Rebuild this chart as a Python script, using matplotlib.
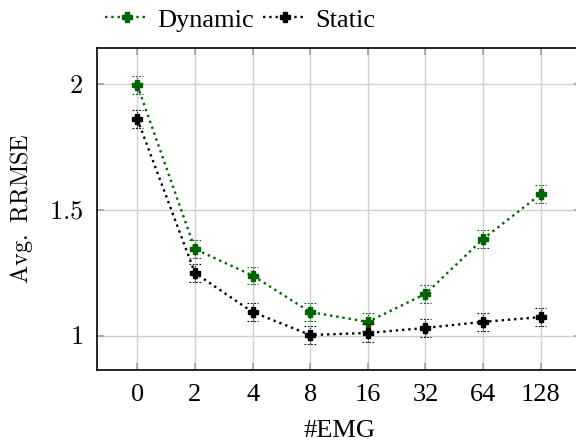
import matplotlib
matplotlib.use("Agg")
import matplotlib.pyplot as plt
from matplotlib.lines import Line2D
import numpy as np

categories = ["0", "2", "4", "8", "16", "32", "64", "128"]
dynamic = [1.995, 1.345, 1.240, 1.095, 1.056, 1.167, 1.385, 1.563]
static = [1.861, 1.250, 1.095, 1.004, 1.012, 1.032, 1.056, 1.075]
dynamic_err = [0.035] * 8
static_err = [0.035] * 8

plt.rcParams['mathtext.fontset'] = 'cm'
plt.rcParams['font.family'] = ['Liberation Serif', 'DejaVu Serif']

fig = plt.figure(figsize=(5.76, 4.41), dpi=100)
ax = fig.add_axes([97/576, 1-370/441, (581-97)/576, (370-48)/441])

x = np.arange(len(categories))
green = '#006400'
handles = []
for vals, err, col, lab in [(dynamic, dynamic_err, green, 'Dynamic'),
                             (static, static_err, 'black', 'Static')]:
    vals = np.array(vals); err = np.array(err)
    ax.plot(x, vals, color=col, ls=':', lw=1.7, marker='P', ms=7.5, zorder=3)
    ax.vlines(x, vals - err, vals + err, colors=col, linestyles=(0, (1, 1)),
              lw=0.8, zorder=3)
    for sgn in (-1, 1):
        ax.hlines(vals + sgn * err, x - 0.1, x + 0.1, colors=col,
                  linestyles=(0, (1.5, 1.5)), lw=0.8, zorder=3)
    handles.append(Line2D([], [], color=col, ls=':', lw=1.7, marker='P', ms=7,
                          label=lab))

ax.set_xlim(-0.7, 7.7)
ax.set_ylim(0.865, 2.143)
ax.set_xticks(x)
ax.set_xticklabels(categories, fontsize=19)
ax.set_yticks([1, 1.5, 2])
ax.set_yticklabels([r'$1$', r'$1.5$', r'$2$'], fontsize=19)
ax.grid(True, color='#d0d0d0', lw=1)
ax.set_axisbelow(True)
ax.tick_params(direction='in', length=5, width=1.2, color='#a0a0a0',
               top=True, right=True, pad=10)
for s in ax.spines.values():
    s.set_linewidth(1.2)
ax.set_xlabel('#EMG', fontsize=19, labelpad=10)
ax.set_ylabel(r'$\mathrm{Avg.\ RRMSE}$', fontsize=17.5, labelpad=10)

ax.legend(handles=handles, loc='lower left', bbox_to_anchor=(0.012, 1.043), ncol=2,
          frameon=False, prop={'size': 19}, handlelength=1.6,
          handletextpad=0.38, columnspacing=0.34, borderaxespad=0.0,
          borderpad=0.1)

fig.savefig('out.png', dpi=100)
